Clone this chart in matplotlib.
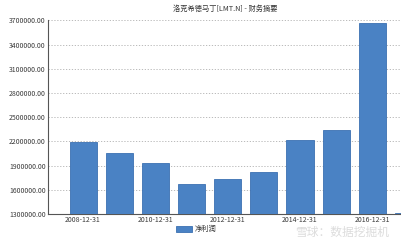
import matplotlib
matplotlib.use("Agg")
import matplotlib.pyplot as plt
import numpy as np

plt.rcParams['font.family'] = ['Noto Sans CJK SC', 'DejaVu Sans']

categories = ["2008-12-31", "2009-12-31", "2010-12-31", "2011-12-31", "2012-12-31",
              "2013-12-31", "2014-12-31", "2015-12-31", "2016-12-31", "2017-12-31"]
net_profit = [2196000, 2057000, 1933000, 1667000, 1728000,
              1815000, 2214000, 2337000, 3670000, 1312000]
yticks = [1300000, 1600000, 1900000, 2200000, 2500000, 2800000, 3100000, 3400000, 3700000]
title = "洛克希德马丁[LMT.N] - 财务摘要"
legend_label = "净利润"
watermark = "雪球：数据挖掘机"

fig = plt.figure(figsize=(4.02, 2.40), dpi=100)
ax = fig.add_axes([48/402, 26/240, 1 - 48/402, 194/240])

x = np.arange(len(categories))
ax.bar(x, net_profit, width=0.75, color='#4a82c4', edgecolor='#3b70b2', linewidth=0.6,
       label=legend_label, zorder=3)
ax.set_ylim(1300000, 3700000 + 300000 * 0.3 / 24.3)
ax.set_xlim(-0.97, 8.82)

ax.set_yticks(yticks)
ax.set_yticklabels([f"{v:.2f}" for v in yticks], fontsize=5, color='#3a3a3a')
ax.set_xticks(x[::2])
ax.set_xticklabels(categories[::2], fontsize=5, color='#3a3a3a')
ax.tick_params(axis='both', length=0, pad=1.5)

ax.yaxis.grid(True, linestyle=(0, (1.5, 2)), color='#b0b0b0', linewidth=0.6, zorder=0)
for s in ['top', 'right']:
    ax.spines[s].set_visible(False)
ax.spines['left'].set_color('#555555')
ax.spines['bottom'].set_color('#555555')
ax.spines['left'].set_linewidth(0.8)
ax.spines['bottom'].set_linewidth(0.8)

fig.text(225/402, 1 - 9/240, title, ha='center', va='center', fontsize=5.2, color='#333333')

leg = fig.legend(loc='center', bbox_to_anchor=(196/402, 1 - 229/240), fontsize=5.2,
                 frameon=False, handlelength=2.2, handleheight=0.9, handletextpad=0.4)
for t in leg.get_texts():
    t.set_color('#333333')

fig.text(342/402, 1 - 232/240, watermark, ha='center', va='center', fontsize=8.5,
         color='#dcdcdc')

fig.savefig("out.png", dpi=100)
